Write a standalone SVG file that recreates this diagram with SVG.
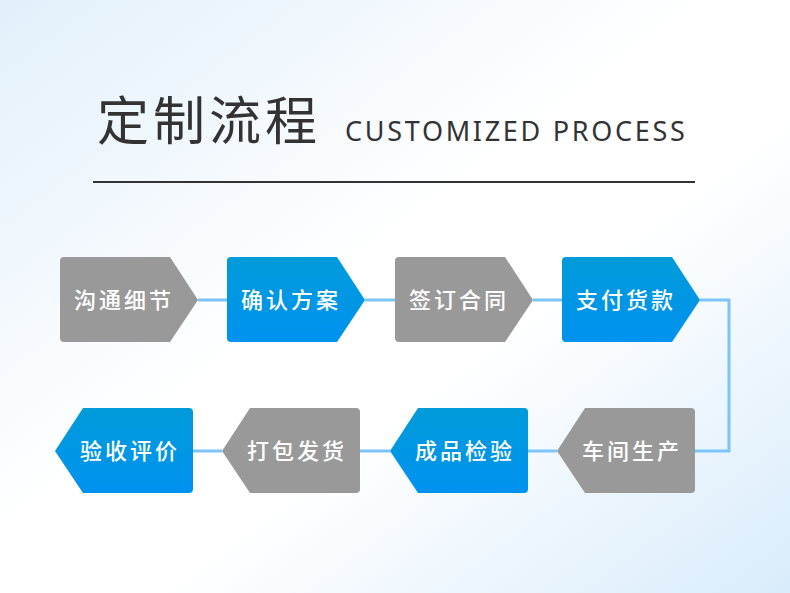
<svg xmlns="http://www.w3.org/2000/svg" width="790" height="593" viewBox="0 0 790 593">
<defs>
<linearGradient id="bg" x1="0" y1="0" x2="1" y2="1">
<stop offset="0" stop-color="#e2f0fb"/><stop offset="0.45" stop-color="#ffffff"/><stop offset="0.6" stop-color="#ffffff"/><stop offset="1" stop-color="#d9ecfb"/>
</linearGradient>
<linearGradient id="blue" x1="0" y1="0" x2="0" y2="1">
<stop offset="0" stop-color="#009bd9"/><stop offset="1" stop-color="#0092f0"/>
</linearGradient>
<path id="r" d="M4,0 H110 L138,43 L110,85 H4 Q0,85 0,81 V4 Q0,0 4,0 Z"/>
<path id="l" d="M28,0 H134 Q138,0 138,4 V81 Q138,85 134,85 H28 L0,43 Z"/>
</defs>
<style>
.g{fill:#999999}.b{fill:url(#blue)}
.t{font-family:"Noto Sans CJK SC",sans-serif;font-size:22px;fill:#fff;font-weight:500;letter-spacing:3px;text-anchor:middle}
.c{stroke:#7dc4f7;stroke-width:3;fill:none}
</style>
<rect width="790" height="593" fill="url(#bg)"/>
<text x="97" y="140" font-family="Noto Sans CJK SC,sans-serif" font-size="52" font-weight="400" fill="#333" letter-spacing="4">定制流程</text>
<text x="345" y="141" font-family="Noto Sans,sans-serif" font-size="27" fill="#333" letter-spacing="2.7">CUSTOMIZED PROCESS</text>
<line x1="93" y1="182" x2="695" y2="182" stroke="#333" stroke-width="2"/>
<g id="connectors">
<path class="c" d="M198,300 H227 M365,300 H395 M533,300 H562 M700,300 H729 V451 H695 M557,451 H528 M390,451 H360 M222,451 H193"/>
</g>
<g id="n1"><use href="#r" x="60" y="257" class="g"/><text class="t" x="124" y="308">沟通细节</text></g>
<g id="n2"><use href="#r" x="227" y="257" class="b"/><text class="t" x="291" y="308">确认方案</text></g>
<g id="n3"><use href="#r" x="395" y="257" class="g"/><text class="t" x="459" y="308">签订合同</text></g>
<g id="n4"><use href="#r" x="562" y="257" class="b"/><text class="t" x="626" y="308">支付货款</text></g>
<g id="n5"><use href="#l" x="557" y="408" class="g"/><text class="t" x="632" y="459">车间生产</text></g>
<g id="n6"><use href="#l" x="390" y="408" class="b"/><text class="t" x="465" y="459">成品检验</text></g>
<g id="n7"><use href="#l" x="222" y="408" class="g"/><text class="t" x="297" y="459">打包发货</text></g>
<g id="n8"><use href="#l" x="55" y="408" class="b"/><text class="t" x="130" y="459">验收评价</text></g>
</svg>
